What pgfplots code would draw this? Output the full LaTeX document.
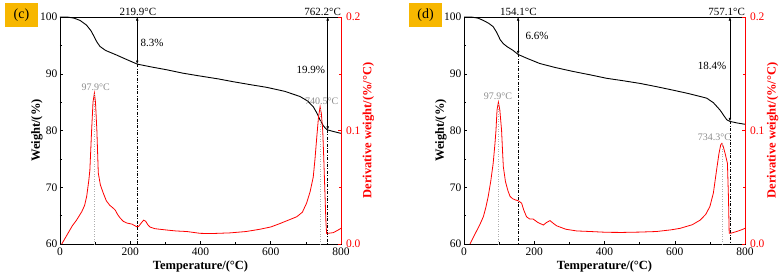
\documentclass[border=0pt]{standalone}
\usepackage{pgfplots}
\pgfplotsset{compat=1.18}
\usepackage{pgfplotstable}
\usepackage{fontspec}
\setmainfont{Liberation Serif}
\usetikzlibrary{arrows.meta}
\definecolor{badge}{RGB}{247,183,0}
\definecolor{lbl}{RGB}{140,140,140}

\pgfplotstableread{
T w
0 100
20 100
40 99.8
57 99.4
75 98.6
88 97.6
95 96.8
105 95.6
114 94.8
130 94.1
161 93.3
190 92.5
219.9 91.7
260 91.2
304 90.7
350 90.1
399 89.6
450 89.1
493 88.6
540 88.1
589 87.6
640 86.9
683 86.0
705 85.2
721 84.2
732 83.0
740 81.9
750 80.8
759 80.2
762.2 80.1
780 79.8
800 79.5
}\tgc

\pgfplotstableread{
T d
5 0
20 0.008
35 0.016
47 0.021
62 0.0285
70 0.034
76 0.042
82 0.056
85 0.065
90 0.100
94 0.125
97.9 0.133
101 0.125
105 0.100
109 0.0625
115 0.052
123 0.045
132 0.038
142 0.034
150 0.032
157 0.030
164 0.026
171 0.023
180 0.020
190 0.0185
205 0.0175
218 0.0153
224 0.0155
230 0.018
238 0.021
244 0.020
250 0.017
256 0.015
270 0.0135
304 0.0123
330 0.0115
361 0.011
399 0.0094
430 0.0092
484 0.0098
530 0.0110
569 0.013
600 0.015
626 0.018
650 0.021
674 0.024
690 0.028
702 0.036
712 0.046
721 0.059
726 0.075
731 0.094
736 0.112
740.5 0.121
744 0.115
748 0.100
751 0.075
754.6 0.042
757 0.020
759 0.0094
765 0.0095
778 0.010
790 0.012
800 0.0138
}\dtgc

\pgfplotstableread{
T w
0 100
20 100
40 99.8
55 99.4
70 98.9
83 98.3
93 97.3
103 96.0
112 95.3
122 94.8
140 94.1
154.1 93.4
180 92.7
216 91.8
260 91.1
311 90.4
360 89.8
406 89.2
450 88.8
501 88.3
550 87.7
596 87.1
640 86.5
691 85.7
710 84.9
729 83.6
740 82.6
748 81.9
757.1 81.6
780 81.3
800 81.1
}\tgd

\pgfplotstableread{
T d
17 0
30 0.008
45 0.017
55 0.024
62 0.032
69 0.042
76 0.055
83 0.071
88 0.088
91 0.100
94 0.118
97.9 0.125
102 0.118
107 0.100
110 0.080
112 0.068
118 0.055
125 0.047
131 0.042
138 0.040
145 0.039
155 0.038
164 0.036
170 0.030
178 0.024
187 0.022
197 0.022
210 0.019
226 0.0167
235 0.019
245 0.0206
255 0.018
264 0.016
290 0.013
321 0.0115
360 0.011
406 0.0103
450 0.0102
500 0.0105
548 0.011
590 0.0125
615 0.0138
650 0.017
672 0.021
688 0.026
700 0.033
710 0.045
719 0.065
726 0.080
731 0.0875
734.3 0.0887
738 0.086
744 0.079
750 0.071
753 0.040
755 0.0095
760 0.0095
776 0.011
790 0.0125
800 0.0138
}\dtgd

\pgfplotsset{
  tgaxis/.style={
    scale only axis, width=281pt, height=227pt,
    xmin=0, xmax=800, ymin=60, ymax=100,
    xtick={0,200,400,600,800}, ytick={60,70,80,90,100},
    minor x tick num=1, minor y tick num=1,
    xtick pos=bottom, ytick pos=left,
    tick align=inside,
    major tick length=3pt, minor tick length=1.8pt,
    tick style={black, line width=0.5pt},
    axis line style={line width=0.6pt},
    clip=false,
    ticklabel style={font=\fontsize{11.5}{12}\selectfont},
    /pgf/number format/assume math mode=true,
    xlabel={\textbf{Temperature/(°C)}},
    ylabel={\textbf{Weight/(\%)}},
    label style={font=\fontsize{12.5}{13}\selectfont},
    xlabel style={at={(axis description cs:0.5,-0.097)}, anchor=center},
    ylabel style={at={(axis description cs:-0.082,0.5)}, anchor=center, rotate=0},
    xticklabel style={yshift=0pt},
    yticklabel style={xshift=1pt},
  },
  dtgaxis/.style={
    scale only axis, width=281pt, height=227pt,
    xmin=0, xmax=800, ymin=0, ymax=0.2,
    axis x line=none, axis y line*=right,
    ytick={0,0.1,0.2}, minor y tick num=1,
    tick align=inside,
    major tick length=3pt, minor tick length=1.8pt,
    tick style={red, line width=0.5pt},
    y axis line style={red, line width=0.6pt},
    clip=false,
    yticklabel style={red, xshift=1.5pt, font=\fontsize{11.5}{12}\selectfont, /pgf/number format/.cd, fixed, fixed zerofill, precision=1},
    /pgf/number format/assume math mode=true,
    ylabel={\textbf{Derivative weight/(\%/°C)}},
    ylabel style={red, font=\fontsize{12.5}{13}\selectfont, at={(axis description cs:1.098,0.5)}, anchor=center, rotate=0},
  },
  tgline/.style={black, line width=0.9pt, no markers},
  dtgline/.style={red, line width=0.8pt, no markers},
  arr/.style={black, line width=0.5pt, no markers, {Latex[length=3.5pt,width=2.6pt]}-{Latex[length=3.5pt,width=2.6pt]}},
  dd/.style={black, line width=0.5pt, no markers, dash pattern=on 3pt off 1.5pt on 0.8pt off 1.5pt},
  gd/.style={lbl!70, line width=0.5pt, no markers, dotted},
}

\begin{document}
\begin{tikzpicture}
\useasboundingbox (-60pt,-33pt) rectangle (723pt,244pt);
% ---------- panel (c) ----------
\begin{axis}[tgaxis, at={(0pt,0pt)}, anchor=south west]
\addplot[tgline] table[x=T,y=w] {\tgc};
\addplot[arr] coordinates {(219.9,100) (219.9,91.7)};
\addplot[dd] coordinates {(219.9,91.7) (219.9,60)};
\addplot[arr] coordinates {(762.2,100) (762.2,80.1)};
\addplot[dd] coordinates {(762.2,80.1) (762.2,60)};
\node[anchor=south, inner sep=1pt, font=\fontsize{11}{12}\selectfont] at (axis cs:222,100) {219.9°C};
\node[anchor=south, inner sep=1pt, font=\fontsize{11}{12}\selectfont] at (axis cs:748,100) {762.2°C};
\node[anchor=west, inner sep=1pt, font=\fontsize{11}{12}\selectfont] at (axis cs:226,95.4) {8.3\%};
\node[anchor=east, inner sep=1pt, font=\fontsize{11}{12}\selectfont] at (axis cs:758,90.7) {19.9\%};
\node[fill=badge, minimum width=33pt, minimum height=24pt, inner sep=0pt, font=\fontsize{14}{15}\selectfont] at (axis description cs:-0.137,1.009) {(c)};
\end{axis}
\begin{axis}[dtgaxis, at={(0pt,0pt)}, anchor=south west]
\addplot[dtgline] table[x=T,y=d] {\dtgc};
\addplot[gd] coordinates {(97.9,0) (97.9,0.133)};
\addplot[gd] coordinates {(740.5,0) (740.5,0.121)};
\node[anchor=south, inner sep=2pt, text=lbl, font=\fontsize{10}{11}\selectfont] at (axis cs:102,0.133) {97.9°C};
\node[anchor=south, inner sep=2pt, text=lbl, font=\fontsize{10}{11}\selectfont] at (axis cs:745,0.121) {740.5°C};
\end{axis}
% ---------- panel (d) ----------
\begin{axis}[tgaxis, at={(404pt,0pt)}, anchor=south west]
\addplot[tgline] table[x=T,y=w] {\tgd};
\addplot[arr] coordinates {(154.1,100) (154.1,93.4)};
\addplot[dd] coordinates {(154.1,93.4) (154.1,60)};
\addplot[arr] coordinates {(757.1,100) (757.1,81.6)};
\addplot[dd] coordinates {(757.1,81.6) (757.1,60)};
\node[anchor=south, inner sep=1pt, font=\fontsize{11}{12}\selectfont] at (axis cs:155,100) {154.1°C};
\node[anchor=south, inner sep=1pt, font=\fontsize{11}{12}\selectfont] at (axis cs:748,100) {757.1°C};
\node[anchor=west, inner sep=1pt, font=\fontsize{11}{12}\selectfont] at (axis cs:172,96.7) {6.6\%};
\node[anchor=east, inner sep=1pt, font=\fontsize{11}{12}\selectfont] at (axis cs:750,91.4) {18.4\%};
\node[fill=badge, minimum width=33pt, minimum height=24pt, inner sep=0pt, font=\fontsize{14}{15}\selectfont] at (axis description cs:-0.137,1.009) {(d)};
\end{axis}
\begin{axis}[dtgaxis, at={(404pt,0pt)}, anchor=south west]
\addplot[dtgline] table[x=T,y=d] {\dtgd};
\addplot[gd] coordinates {(97.9,0) (97.9,0.125)};
\addplot[gd] coordinates {(734.3,0) (734.3,0.0887)};
\node[anchor=south, inner sep=2pt, text=lbl, font=\fontsize{10}{11}\selectfont] at (axis cs:97,0.125) {97.9°C};
\node[anchor=south, inner sep=2pt, text=lbl, font=\fontsize{10}{11}\selectfont] at (axis cs:713,0.0887) {734.3°C};
\end{axis}
\end{tikzpicture}
\end{document}
